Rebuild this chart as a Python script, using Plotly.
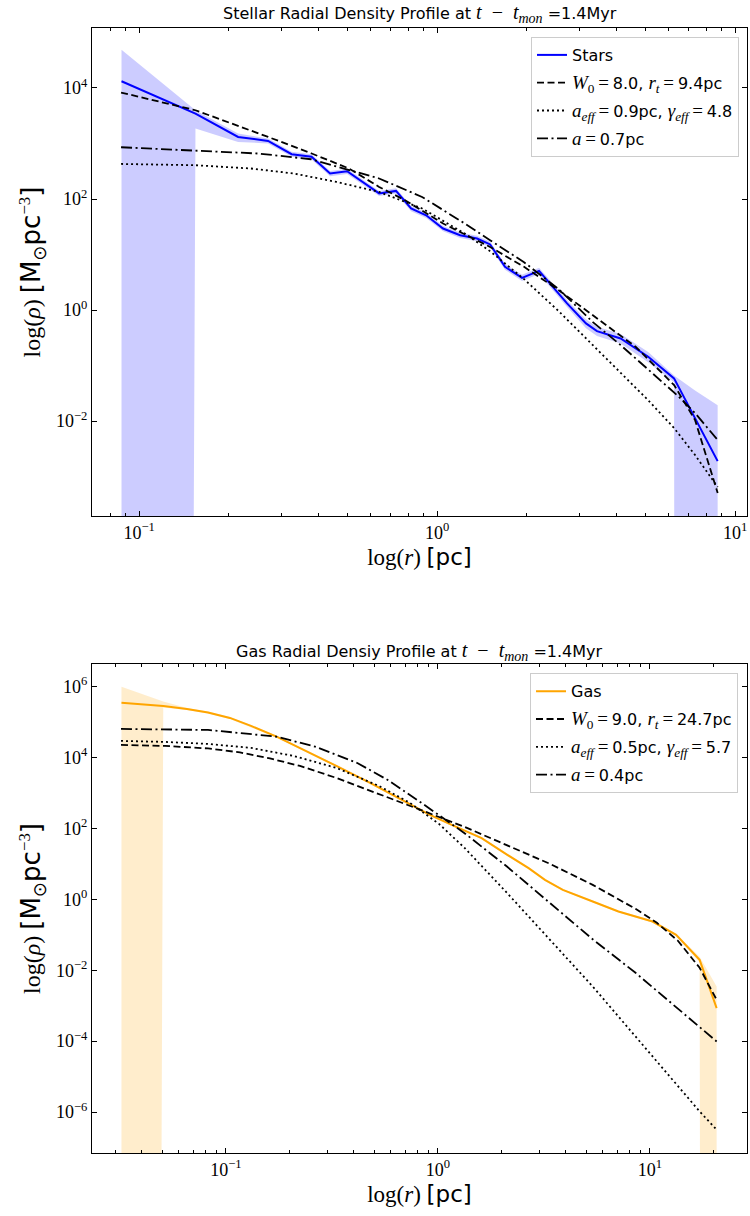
import plotly.graph_objects as go

# ---------------- data ----------------
# Stellar profile
star_r = [0.0873, 0.1546, 0.2149, 0.271, 0.325, 0.379, 0.4375, 0.499, 0.639, 0.728,
          0.818, 0.919, 1.047, 1.195, 1.362, 1.507, 1.69, 1.928, 2.199, 2.73,
          3.16, 3.44, 4.13, 5.11, 6.24, 7.34, 8.74]
star_rho = [13200, 3460, 1312, 1112, 640, 577, 288, 316, 126, 140,
            67.5, 51, 29.4, 22.3, 19.4, 15.2, 6.0, 3.8, 5.08, 1.32,
            0.574, 0.417, 0.308, 0.144, 0.0588, 0.0112, 0.0019]
star_hi = [49000, 3955, 1510, 1230, 710, 640, 320, 350, 140, 156,
           75, 57, 32.8, 24.9, 21.7, 17.0, 6.8, 4.3, 5.75, 1.52,
           0.68, 0.50, 0.37, 0.175, 0.066, 0.0357, 0.0192]
star_lo = [0, 1858, 1067, 1000, 575, 515, 258, 283, 113, 125,
           60, 45.5, 26.2, 19.9, 17.3, 13.5, 5.3, 3.35, 4.45, 1.14,
           0.47, 0.34, 0.25, 0.115, 0.050, 0, 0]

king_star_r = [0.0870, 0.1546, 0.271, 0.3777, 0.5066, 0.639, 0.781, 1.047, 1.506, 1.958,
               2.559, 3.333, 4.638, 6.243, 7.341, 8.743]
king_star_rho = [8260, 3970, 1312, 667, 354, 165, 95, 36.2, 13.7, 6.0,
                 2.28, 0.809, 0.218, 0.0445, 0.0104, 5.06e-4]

eff_star_r = [0.0870, 0.1546, 0.2375, 0.3304, 0.4596, 0.639, 0.8906, 1.238, 1.506, 1.958,
              2.559, 3.333, 4.112, 5.105, 6.243, 7.341, 8.743]
eff_star_rho = [428, 406, 354, 288, 203, 134, 67.5, 23.9, 11.49, 3.60,
                0.955, 0.2334, 0.07622, 0.02388, 0.007482, 0.002443, 6.48e-4]

plum_star_r = [0.0870, 0.2522, 0.3777, 0.639, 0.8906, 1.238, 1.506, 1.958, 2.559, 3.333,
               4.131, 5.105, 6.44, 7.341, 8.743]
plum_star_rho = [855, 659, 520, 234, 109, 36.2, 18.1, 7.28, 2.378, 0.6058,
                 0.2334, 0.0863, 0.02818, 0.01393, 0.00455]

# Gas profile
gas_r = [0.03214, 0.0506, 0.06546, 0.08226, 0.1044, 0.1312, 0.1733, 0.2234, 0.263, 0.3317,
         0.481, 0.6973, 0.9168, 1.162, 1.607, 2.125, 2.678, 3.197, 3.883, 5.373,
         7.103, 10.29, 13.29, 17.16, 20.64]
gas_rho = [3.54e5, 2.857e5, 2.35e5, 1.873e5, 1.311e5, 7.80e4, 3.895e4, 1.87e4, 1.187e4, 5810,
           1890, 572.6, 241.5, 126.2, 53.2, 18.0, 7.59, 3.55, 1.855, 0.868,
           0.4535, 0.2369, 0.09993, 0.01972, 8.58e-4]
gas_hi = [1.0e6, 3.8e5, 2.5e5, 1.99e5, 1.39e5, 8.3e4, 4.15e4, 1.99e4, 1.26e4, 6180,
          2010, 610, 257, 134, 56.6, 19.2, 8.08, 3.78, 1.97, 0.925,
          0.483, 0.252, 0.107, 0.024, 3.5e-3]
gas_lo = [0, 2.6e5, 2.2e5, 1.75e5, 1.23e5, 7.3e4, 3.64e4, 1.75e4, 1.11e4, 5440,
          1770, 536, 226, 118, 49.8, 16.8, 7.1, 3.32, 1.74, 0.81,
          0.424, 0.221, 0.093, 0.0165, 0]

king_gas_r = [0.03197, 0.05157, 0.08226, 0.1164, 0.1612, 0.2234, 0.3317, 0.5268, 0.8396, 1.335,
              2.116, 3.376, 5.373, 8.552, 10.79, 13.56, 17.16, 20.64]
king_gas_rho = [2.272e4, 2.129e4, 1.810e4, 1.396e4, 9458, 5810, 2667, 943.8, 323.5, 110.8,
                34.44, 10.03, 2.567, 0.5405, 0.2178, 0.06771, 0.01173, 1.47e-3]

eff_gas_r = [0.03197, 0.05157, 0.08226, 0.1312, 0.2086, 0.3317, 0.5268, 0.7378, 1.011, 1.335,
             2.116, 3.376, 5.373, 17.16, 20.64]
eff_gas_rho = [2.944e4, 2.760e4, 2.424e4, 1.870e4, 1.112e4, 5104, 1586, 526.2, 134.7, 28.35,
               1.527, 0.07226, 3.484e-3, 1.042e-6, 3.178e-7]

plum_gas_r = [0.03197, 0.08226, 0.1733, 0.263, 0.4184, 0.5791, 0.8395, 1.162, 1.335, 2.116,
              3.376, 5.373, 8.552, 12.70, 17.16, 20.64]
plum_gas_rho = [6.417e4, 6.017e4, 3.895e4, 2.034e4, 6923, 2342, 516.1, 134.6, 73.6, 8.42,
                0.798, 0.07463, 8.48e-3, 1.133e-3, 2.465e-4, 9.80e-5]

SERIF_LEG = '<span style="font-family:Liberation Serif;font-size:19px">'
labels_star = ["Stars",
               SERIF_LEG + '<i>W</i><sub>0</sub>\u2009=\u2009</span>8.0, '
               + SERIF_LEG + '<i>r</i><sub><i>t</i></sub>\u2009=\u2009</span>9.4pc',
               SERIF_LEG + '<i>a</i><sub><i>eff</i></sub>\u2009=\u2009</span>0.9pc, '
               + SERIF_LEG + '<i>γ</i><sub><i>eff</i></sub>\u2009=\u2009</span>4.8',
               SERIF_LEG + '<i>a</i>\u2009=\u2009</span>0.7pc']
labels_gas = ["Gas",
              SERIF_LEG + '<i>W</i><sub>0</sub>\u2009=\u2009</span>9.0, '
              + SERIF_LEG + '<i>r</i><sub><i>t</i></sub>\u2009=\u2009</span>24.7pc',
              SERIF_LEG + '<i>a</i><sub><i>eff</i></sub>\u2009=\u2009</span>0.5pc, '
              + SERIF_LEG + '<i>γ</i><sub><i>eff</i></sub>\u2009=\u2009</span>5.7',
              SERIF_LEG + '<i>a</i>\u2009=\u2009</span>0.4pc']

xtick_vals = [0.1, 1, 10]
xtick_text = ["10<sup>−1</sup>", "10<sup>0</sup>", "10<sup>1</sup>"]
ytick_star_vals = [1e-2, 1, 1e2, 1e4]
ytick_star_text = ["10<sup>−2</sup>", "10<sup>0</sup>", "10<sup>2</sup>", "10<sup>4</sup>"]
ytick_gas_vals = [1e-6, 1e-4, 1e-2, 1, 1e2, 1e4, 1e6]
ytick_gas_text = ["10<sup>−6</sup>", "10<sup>−4</sup>", "10<sup>−2</sup>", "10<sup>0</sup>",
                  "10<sup>2</sup>", "10<sup>4</sup>", "10<sup>6</sup>"]
minor_star = [0.08, 0.09, 0.2, 0.3, 0.4, 0.5, 0.6, 0.7, 0.8, 0.9, 2, 3, 4, 5, 6, 7, 8, 9]
minor_gas = [0.03, 0.04, 0.05, 0.06, 0.07, 0.08, 0.09, 0.2, 0.3, 0.4, 0.5, 0.6, 0.7, 0.8, 0.9,
             2, 3, 4, 5, 6, 7, 8, 9, 20]

SERIF_T = '<span style="font-family:Liberation Serif;font-size:20px">'
title_star = ('Stellar Radial Density Profile at ' + SERIF_T +
              '<i>t</i>\u2002−\u2002<i>t</i><sub><i>mon</i></sub></span> =1.4Myr')
title_gas = ('Gas Radial Densiy Profile at ' + SERIF_T +
             '<i>t</i>\u2002−\u2002<i>t</i><sub><i>mon</i></sub></span> =1.4Myr')

# ---------------- styling ----------------
CLIP = 1e-300  # non-positive values are clipped like matplotlib's log scale
DASH = "7px,3.5px"
DOT = "2px,3px"
DASHDOT = "11px,3.5px,2px,3.5px"


def clip(vals):
    return [v if v > 0 else CLIP for v in vals]


fig = go.Figure()


def add_panel(xa, ya, leg, r, rho, hi, lo, color, fillcolor, models, labels):
    fig.add_trace(go.Scatter(x=r + r[::-1], y=clip(hi) + clip(lo)[::-1], fill="toself",
                             fillcolor=fillcolor, line=dict(width=0), mode="lines",
                             hoverinfo="skip", showlegend=False, xaxis=xa, yaxis=ya))
    fig.add_trace(go.Scatter(x=r, y=rho, mode="lines", line=dict(color=color, width=2),
                             name=labels[0], legend=leg, legendgroup=leg + "0",
                             xaxis=xa, yaxis=ya))
    for i, (mr, mrho, dash) in enumerate(models):
        fig.add_trace(go.Scatter(x=mr, y=mrho, mode="lines",
                                 line=dict(color="black", width=1.8, dash=dash),
                                 name=labels[i + 1], legend=leg, legendgroup=leg + str(i + 1),
                                 xaxis=xa, yaxis=ya))


add_panel("x", "y", "legend", star_r, star_rho, star_hi, star_lo, "#0000ff",
          "rgba(0,0,255,0.2)",
          [(king_star_r, king_star_rho, DASH), (eff_star_r, eff_star_rho, DOT),
           (plum_star_r, plum_star_rho, DASHDOT)], labels_star)
add_panel("x2", "y2", "legend2", gas_r, gas_rho, gas_hi, gas_lo, "#ffa500",
          "rgba(255,165,0,0.2)",
          [(king_gas_r, king_gas_rho, DASH), (eff_gas_r, eff_gas_rho, DOT),
           (plum_gas_r, plum_gas_rho, DASHDOT)], labels_gas)

axis_common = dict(type="log", showline=True, linecolor="black", linewidth=1, mirror="ticks",
                   ticks="inside", ticklen=5, tickwidth=1, tickcolor="black", showgrid=False,
                   zeroline=False, tickmode="array",
                   tickfont=dict(family="Liberation Serif", size=18, color="black"))

SANS = '<span style="font-family:DejaVu Sans;font-size:26px">'
xtitle = dict(text='log(<i>r</i>) <span style="font-family:DejaVu Sans">[pc]</span>',
              font=dict(family="Liberation Serif", size=23, color="black"), standoff=7)
ytitle = dict(text='log(<i>ρ</i>) ' + SANS + '[M<sub>⊙</sub>pc</span>'
                   '<sup>−3</sup>' + SANS + ']</span>',
              font=dict(family="Liberation Serif", size=24, color="black"), standoff=8)

fig.update_layout(
    width=750, height=1216,
    margin=dict(l=92, r=3, t=28, b=63),
    plot_bgcolor="white", paper_bgcolor="white",
    xaxis=dict(axis_common, domain=[0, 1], anchor="y", range=[-1.158, 1.040],
               tickvals=xtick_vals, ticktext=xtick_text, title=xtitle,
               minor=dict(ticks="inside", ticklen=3, tickcolor="black", tickmode="array",
                          tickvals=minor_star, showgrid=False)),
    yaxis=dict(axis_common, domain=[0.5662, 1], anchor="x", range=[-3.71, 5.08],
               tickvals=ytick_star_vals, ticktext=ytick_star_text, title=ytitle),
    xaxis2=dict(axis_common, domain=[0, 1], anchor="y2", range=[-1.632, 1.458],
                tickvals=xtick_vals, ticktext=xtick_text, title=xtitle,
                minor=dict(ticks="inside", ticklen=3, tickcolor="black", tickmode="array",
                           tickvals=minor_gas, showgrid=False)),
    yaxis2=dict(axis_common, domain=[0, 0.4347], anchor="x2", range=[-7.155, 6.64],
                tickvals=ytick_gas_vals, ticktext=ytick_gas_text, title=ytitle),
    legend=dict(x=0.9878, y=0.992, xanchor="right", yanchor="top", bordercolor="#cccccc",
                borderwidth=1, bgcolor="rgba(255,255,255,0.8)", traceorder="grouped",
                tracegroupgap=4, font=dict(family="DejaVu Sans", size=16, color="black")),
    legend2=dict(x=0.9863, y=0.4264, xanchor="right", yanchor="top", bordercolor="#cccccc",
                 borderwidth=1, bgcolor="rgba(255,255,255,0.8)", traceorder="grouped",
                 tracegroupgap=4, font=dict(family="DejaVu Sans", size=16, color="black")),
    annotations=[
        dict(text=title_star, xref="paper", yref="paper", x=0.5, y=1.0133, xanchor="center",
             yanchor="middle", showarrow=False,
             font=dict(family="DejaVu Sans", size=16, color="black")),
        dict(text=title_gas, xref="paper", yref="paper", x=0.5, y=0.4462, xanchor="center",
             yanchor="middle", showarrow=False,
             font=dict(family="DejaVu Sans", size=16, color="black")),
    ],
)

fig.write_html("out.html")
